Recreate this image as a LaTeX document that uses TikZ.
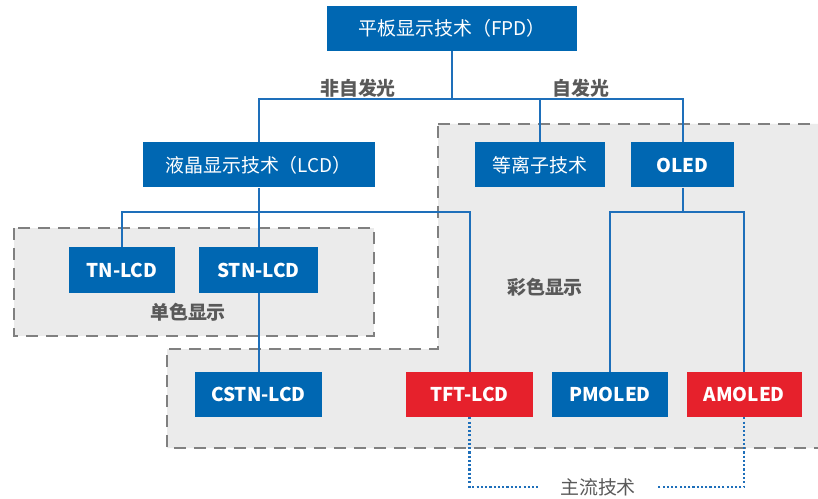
\documentclass[tikz,border=0pt]{standalone}
\usepackage{fontspec}
\setmainfont{Noto Sans CJK SC}
\usetikzlibrary{backgrounds}
\usetikzlibrary{positioning,calc}

\definecolor{fpdblue}{RGB}{0,103,178}
\definecolor{fpdred}{RGB}{230,33,44}
\definecolor{linkblue}{RGB}{30,111,186}
\definecolor{areagray}{RGB}{235,235,235}
\definecolor{edgegray}{RGB}{128,128,128}
\definecolor{taggray}{RGB}{89,89,89}

\begin{document}
\begin{tikzpicture}[x=0.75pt,y=-0.75pt,
    techbox/.style={fill=fpdblue,text=white,inner sep=0pt,minimum height=33.75pt,font=\fontsize{14.2}{17}\selectfont},
    hotbox/.style={techbox,fill=fpdred},
    link/.style={draw=linkblue,line width=1.5pt},
    mainlink/.style={draw=linkblue,line width=1.6pt,dash pattern=on 1.6pt off 1.6pt},
    group/.style={fill=areagray,draw=edgegray,line width=2pt,dash pattern=on 9pt off 6pt},
    tag/.style={text=taggray,font=\fontsize{14.2}{17}\selectfont\bfseries}]

      \useasboundingbox (0,0) rectangle (818,499);

      \node[techbox,minimum width=187.5pt] (fpd) at (452,28.5) {平板显示技术（FPD）};

      \node[techbox,minimum width=174pt] (lcd) at (258.5,165) {液晶显示技术（LCD）};
      \node[techbox,minimum width=97.5pt] (pdp) at (540,165) {等离子技术};
      \node[techbox,minimum width=77.25pt] (oled) at (682.5,165) {\textbf{OLED}};

      \node[techbox,minimum width=79.5pt] (tn) at (122,270) {\textbf{TN-LCD}};
      \node[techbox,minimum width=89.25pt] (stn) at (258.5,270) {\textbf{STN-LCD}};

      \node[techbox,minimum width=95.25pt] (cstn) at (258.5,394.5) {\textbf{CSTN-LCD}};
      \node[hotbox,minimum width=95.25pt] (tft) at (469.5,394.5) {\textbf{TFT-LCD}};
      \node[techbox,minimum width=87pt] (pmoled) at (610,394.5) {\textbf{PMOLED}};
      \node[hotbox,minimum width=86.6pt] (amoled) at (744.25,394.5) {\textbf{AMOLED}};

      \node[tag] (nonself) at (358,88) {非自发光};
      \node[tag] (self) at (581,88) {自发光};
      \node[tag] (mono) at (188,312) {单色显示};
      \node[tag] (color) at (545,287) {彩色显示};
      \node[tag,font=\fontsize{14.2}{17}\selectfont,inner xsep=16pt] (main) at (598,487) {主流技术};

      \coordinate (fpdbus) at (452,99);
      \coordinate (lcdbus) at (258.5,212);
      \coordinate (oledbus) at (682.5,212);

      \begin{scope}[on background layer]
        % grouped areas
        \draw[group] (14,228) rectangle (374,336);
        \draw[group] (438,124) -- (840,124) -- (840,448) -- (167,448) -- (167,349) -- (438,349) -- cycle;

        \draw[link] (fpd.south) -- (fpdbus);
        \draw[link] (lcd.north) |- (fpdbus) -| (oled.north);
        \draw[link] (pdp.north) -- (pdp.north |- fpdbus);

        \draw[link] (lcd.south) -- (stn.north);
        \draw[link] (stn.south) -- (cstn.north);
        \draw[link] (tn.north) |- (lcdbus) -| (tft.north);

        \draw[link] (oled.south) -- (oledbus);
        \draw[link] (pmoled.north) |- (oledbus) -| (amoled.north);

        \draw[mainlink] (tft.south) |- (main.west);
        \draw[mainlink] (amoled.south) |- (main.east);
      \end{scope}

    \end{tikzpicture}
\end{document}
